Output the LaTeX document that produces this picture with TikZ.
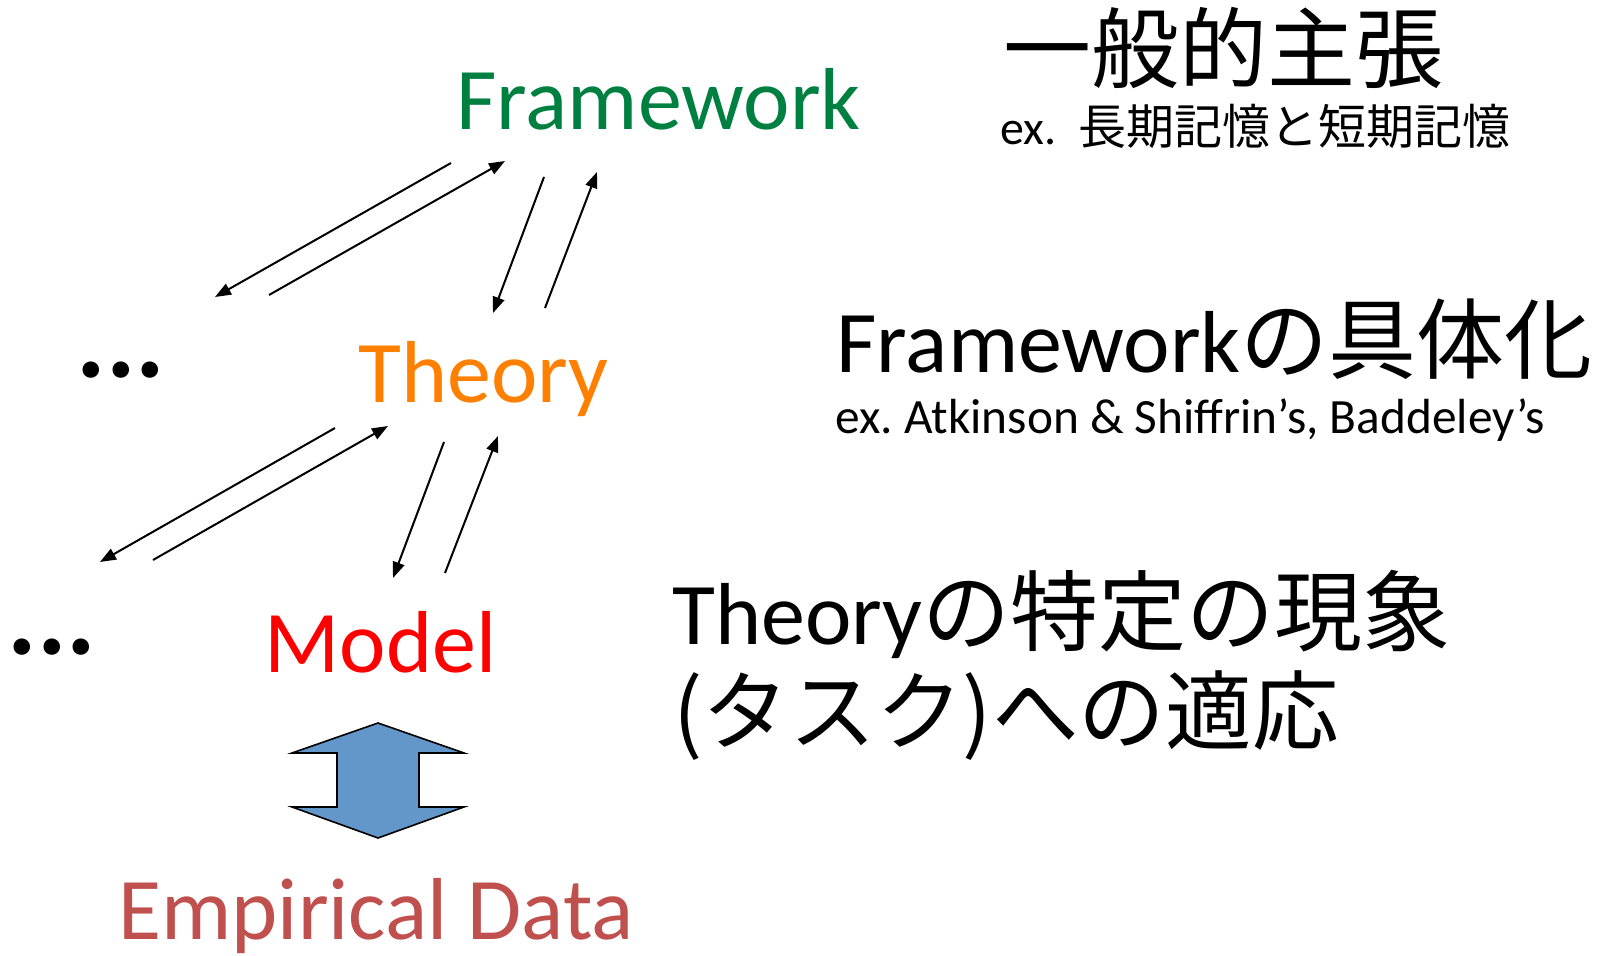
\documentclass[tikz,border=0pt]{standalone}
\usepackage{fontspec}
\setmainfont{Carlito}
\newfontfamily\cjk{Noto Sans CJK JP}
\usetikzlibrary{arrows.meta}
\frenchspacing

\definecolor{fwgreen}{RGB}{0,128,64}
\definecolor{thorange}{RGB}{255,128,0}
\definecolor{datared}{RGB}{192,80,77}
\definecolor{arrowblue}{RGB}{99,150,201}

\tikzset{every picture/.style={line width=0.75pt}}
\tikzset{
  link/.style={line width=1.5pt,-{Triangle[length=12pt,width=9pt]}},
  txt/.style={anchor=base west,inner sep=0pt},
}

\begin{document}
\begin{tikzpicture}[x=0.75pt,y=0.75pt,yscale=-1,xscale=1]
	\useasboundingbox (0,0) rectangle (1597,956);

	% Text Node
	\draw (456,129) node [txt,font=\fontsize{66}{79}\selectfont,text=fwgreen] (framework) {Framework};
	% Text Node
	\draw (358,402) node [txt,font=\fontsize{66}{79}\selectfont,text=thorange] (theory) {Theory};
	% Text Node
	\draw (264,672) node [txt,font=\fontsize{66}{79}\selectfont,text=red] (model) {Model};
	% Text Node
	\draw (118,939) node [txt,font=\fontsize{66}{79}\selectfont,text=datared] (data) {Empirical Data};
	% Text Node
	\draw (76,377) node [txt,font=\fontsize{83}{99}\bfseries] (dotsup) {...};
	% Text Node
	\draw (7,654) node [txt,font=\fontsize{83}{99}\bfseries] (dotslow) {...};

	% Text Node
	\draw (1003,48) node [anchor=west,inner sep=0pt,font=\fontsize{66}{79}\cjk] (general) {一般的主張};
	% Text Node
	\draw (1000,145) node [txt,font=\fontsize{36}{43}\selectfont] (exone) {ex.\ \ {\cjk 長期記憶と短期記憶}};
	% Text Node
	\draw (836,372) node [txt,font=\fontsize{66}{79}\selectfont] (concrete) {Framework{\cjk の具体化}};
	% Text Node
	\draw (835,433) node [txt,font=\fontsize{37}{44}\selectfont] (extwo) {ex. Atkinson \& Shiffrin’s, Baddeley’s};
	% Text Node
	\draw (672,644) node [txt,font=\fontsize{66}{79}\selectfont] (apply) {Theory{\cjk の特定の現象}};
	% Text Node
	\draw (673,743) node [txt,font=\fontsize{65}{78}\cjk] (task) {(タスク)への適応};

	%Arrow ends
	\coordinate (fwdl-s) at (451,163); \coordinate (fwdl-e) at (215,297);
	\coordinate (fwur-s) at (269,295); \coordinate (fwur-e) at (505,161);
	\coordinate (fwdn-s) at (544,177); \coordinate (fwdn-e) at (493,313);
	\coordinate (fwup-s) at (545,308); \coordinate (fwup-e) at (597,172);
	\coordinate (thdl-s) at (335,428); \coordinate (thdl-e) at (100,562);
	\coordinate (thur-s) at (153,560); \coordinate (thur-e) at (388,426);
	\coordinate (thdn-s) at (444,442); \coordinate (thdn-e) at (393,578);
	\coordinate (thup-s) at (445,573); \coordinate (thup-e) at (498,436);

	%Straight Lines
	\draw [link] (fwdl-s) -- (fwdl-e) ;
	\draw [link] (fwur-s) -- (fwur-e) ;
	\draw [link] (fwdn-s) -- (fwdn-e) ;
	\draw [link] (fwup-s) -- (fwup-e) ;
	\draw [link] (thdl-s) -- (thdl-e) ;
	\draw [link] (thur-s) -- (thur-e) ;
	\draw [link] (thdn-s) -- (thdn-e) ;
	\draw [link] (thup-s) -- (thup-e) ;

	%Shape: Up Down Arrow
	\draw [fill=arrowblue,line width=1.2pt,line join=miter] (378,723) -- (464,753) -- (419,753) -- (419,807) -- (464,807) -- (378,838) -- (292,807) -- (337,807) -- (337,753) -- (292,753) -- cycle ;

\end{tikzpicture}
\end{document}
